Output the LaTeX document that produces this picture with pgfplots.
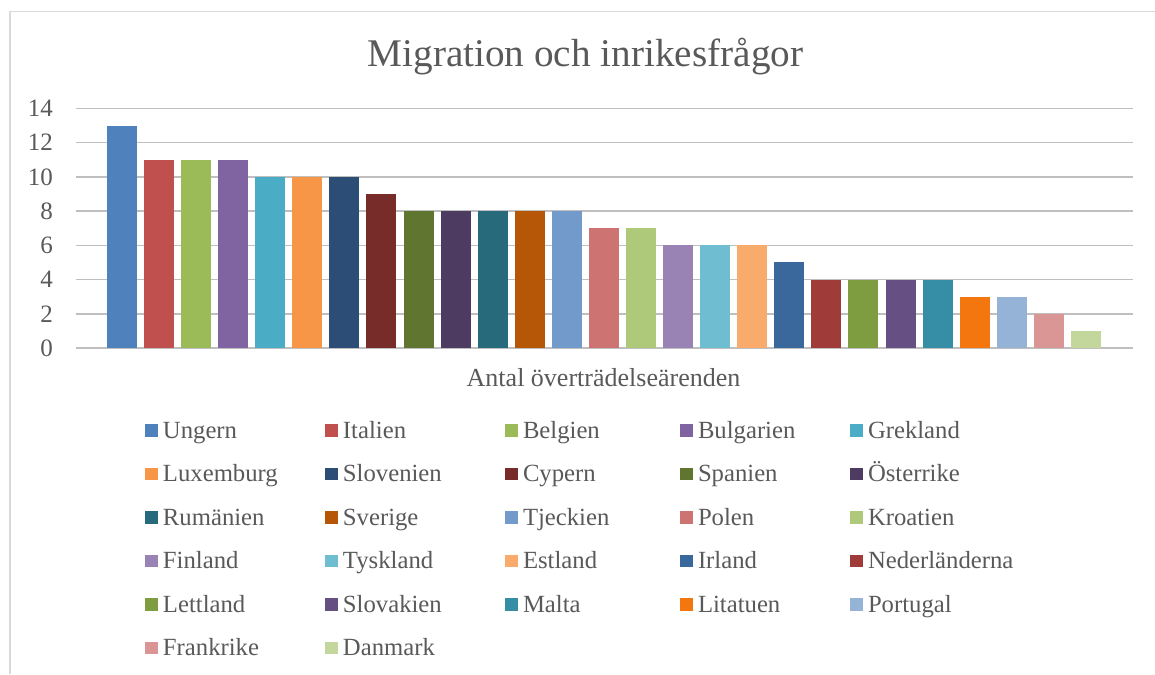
\documentclass[border=0pt]{standalone}
\usepackage{pgfplots}
\pgfplotsset{compat=1.18}
\usepackage{fontspec}
\setmainfont{Liberation Serif}
\definecolor{txt}{HTML}{595959}
\definecolor{grid}{HTML}{D9D9D9}
\definecolor{c1}{HTML}{4F81BD}
\definecolor{c2}{HTML}{C0504D}
\definecolor{c3}{HTML}{9BBB59}
\definecolor{c4}{HTML}{8064A2}
\definecolor{c5}{HTML}{4BACC6}
\definecolor{c6}{HTML}{F79646}
\definecolor{c7}{HTML}{2C4D75}
\definecolor{c8}{HTML}{772C2A}
\definecolor{c9}{HTML}{5F7530}
\definecolor{c10}{HTML}{4D3B62}
\definecolor{c11}{HTML}{276A7C}
\definecolor{c12}{HTML}{B65708}
\definecolor{c13}{HTML}{729ACA}
\definecolor{c14}{HTML}{CD7371}
\definecolor{c15}{HTML}{AFC97A}
\definecolor{c16}{HTML}{9983B5}
\definecolor{c17}{HTML}{6FBDD1}
\definecolor{c18}{HTML}{F9AB6B}
\definecolor{c19}{HTML}{3A679C}
\definecolor{c20}{HTML}{9F3B38}
\definecolor{c21}{HTML}{7E9D40}
\definecolor{c22}{HTML}{664F83}
\definecolor{c23}{HTML}{358EA6}
\definecolor{c24}{HTML}{F3760E}
\definecolor{c25}{HTML}{95B3D7}
\definecolor{c26}{HTML}{D99694}
\definecolor{c27}{HTML}{C3D69B}
\begin{document}
\begin{tikzpicture}
\useasboundingbox (0pt,0pt) rectangle (1155pt,-674pt);
\draw[grid, line width=1.2pt] (10pt,-674pt) -- (10pt,-11.5pt) -- (1160pt,-11.5pt);
\begin{axis}[
  at={(76pt,-348pt)}, anchor=south west,
  scale only axis, width=1057pt, height=239.5pt,
  xmin=-1.24, xmax=27.27, ymin=0, ymax=14,
  axis line style={draw=none},
  xtick=\empty,
  ytick={0,2,...,14},
  ymajorgrids, grid style={grid, line width=1.5pt},
  major tick length=0pt,
  tick label style={font=\fontsize{25}{30}\selectfont, text=txt},
  /pgf/number format/assume math mode=true,
  yticklabel style={anchor=east, inner sep=0pt, xshift=-23pt},
  every axis plot/.append style={ybar, bar width=30pt, bar shift=0pt, draw=none},
  legend columns=5,
  legend image code/.code={\fill[#1] (0pt,1.3pt) rectangle (12.7pt,13.7pt);},
  legend style={at={(axis description cs:0.06528,-0.3048)}, anchor=north west,
    draw=none, fill=none, inner sep=0pt, outer sep=0pt,
    row sep=21.5pt,
    nodes={anchor=base west, inner sep=0pt, text width=150pt, align=left,
      text height=17pt, text depth=5pt, text=txt, font=\fontsize{24.7}{29}\selectfont},
    /tikz/every odd column/.append style={column sep=5.3pt},
    /tikz/column 2/.append style={column sep=12pt},
    /tikz/column 4/.append style={column sep=12pt},
    /tikz/column 6/.append style={column sep=7pt},
    /tikz/column 8/.append style={column sep=2pt}},
]
\addplot[fill=c1] coordinates {(0,13)};
\addplot[fill=c2] coordinates {(1,11)};
\addplot[fill=c3] coordinates {(2,11)};
\addplot[fill=c4] coordinates {(3,11)};
\addplot[fill=c5] coordinates {(4,10)};
\addplot[fill=c6] coordinates {(5,10)};
\addplot[fill=c7] coordinates {(6,10)};
\addplot[fill=c8] coordinates {(7,9)};
\addplot[fill=c9] coordinates {(8,8)};
\addplot[fill=c10] coordinates {(9,8)};
\addplot[fill=c11] coordinates {(10,8)};
\addplot[fill=c12] coordinates {(11,8)};
\addplot[fill=c13] coordinates {(12,8)};
\addplot[fill=c14] coordinates {(13,7)};
\addplot[fill=c15] coordinates {(14,7)};
\addplot[fill=c16] coordinates {(15,6)};
\addplot[fill=c17] coordinates {(16,6)};
\addplot[fill=c18] coordinates {(17,6)};
\addplot[fill=c19] coordinates {(18,5)};
\addplot[fill=c20] coordinates {(19,4)};
\addplot[fill=c21] coordinates {(20,4)};
\addplot[fill=c22] coordinates {(21,4)};
\addplot[fill=c23] coordinates {(22,4)};
\addplot[fill=c24] coordinates {(23,3)};
\addplot[fill=c25] coordinates {(24,3)};
\addplot[fill=c26] coordinates {(25,2)};
\addplot[fill=c27] coordinates {(26,1)};
\legend{Ungern,Italien,Belgien,Bulgarien,Grekland,Luxemburg,Slovenien,Cypern,Spanien,Österrike,Rumänien,Sverige,Tjeckien,Polen,Kroatien,Finland,Tyskland,Estland,Irland,Nederländerna,Lettland,Slovakien,Malta,Litatuen,Portugal,Frankrike,Danmark}
\end{axis}
\node[anchor=base, text=txt, font=\fontsize{39.2}{46}\selectfont, inner sep=0pt] at (585.5pt,-67pt) {Migration och inrikesfrågor};
\node[anchor=base, text=txt, font=\fontsize{26}{31}\selectfont, inner sep=0pt] at (603.5pt,-386.7pt) {Antal överträdelseärenden};
\end{tikzpicture}
\end{document}
